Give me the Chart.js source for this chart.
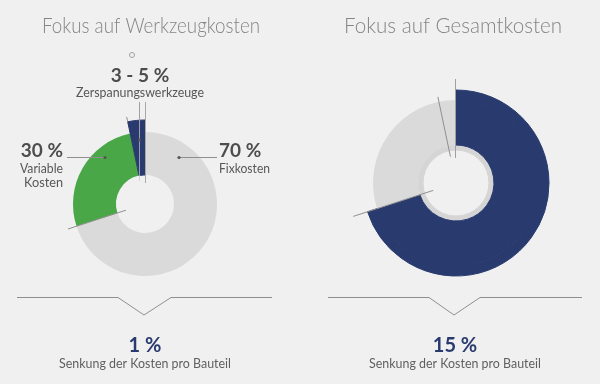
<!DOCTYPE html>
<html lang="de">
<head>
<meta charset="utf-8">
<title>Fokus auf Werkzeugkosten / Gesamtkosten</title>
<script src="https://cdn.jsdelivr.net/npm/chart.js@4.4.1/dist/chart.umd.min.js"></script>
<style>
  html, body { margin: 0; padding: 0; background: #f0f0f0; }
  #wrap { display: flex; width: 600px; height: 384px; }
  canvas { display: block; }
</style>
</head>
<body>
<div id="wrap">
  <canvas id="werkzeugChart" width="300" height="384"></canvas>
  <canvas id="gesamtChart" width="300" height="384"></canvas>
</div>
<script>
const titles = ['Fokus auf Werkzeugkosten', 'Fokus auf Gesamtkosten'];
const werkzeugLabels = ['Fixkosten', 'Variable Kosten', 'Zerspanungswerkzeuge'];
const werkzeugValues = [70, 26.7, 3.3];
const werkzeugPercent = ['70 %', '30 %', '3 - 5 %'];
const gesamtLabels = ['Fixkosten', 'Variable Kosten'];
const gesamtValues = [70, 30];
const savingPercent = ['1 %', '15 %'];
const savingText = 'Senkung der Kosten pro Bauteil';

const NAVY = '#283a6e';
const GREEN = '#4aa748';
const GRAY = '#dadada';
const RING = '#d5d5d5';
const NONE = 'rgba(0,0,0,0)';
const LINE = '#8f8f8f';
const FONT = 'Lato, "Open Sans", sans-serif';

function line(ctx, x1, y1, x2, y2, color, w) {
    ctx.save();
    ctx.strokeStyle = color;
    ctx.lineWidth = w || 1;
    ctx.beginPath();
    ctx.moveTo(x1, y1);
    ctx.lineTo(x2, y2);
    ctx.stroke();
    ctx.restore();
}

function radial(ctx, cx, cy, angle, r1, r2, color) {
    line(ctx, cx + r1 * Math.cos(angle), cy + r1 * Math.sin(angle),
        cx + r2 * Math.cos(angle), cy + r2 * Math.sin(angle), color);
}

function dot(ctx, x, y) {
    ctx.save();
    ctx.fillStyle = '#555';
    ctx.beginPath();
    ctx.arc(x, y, 1.6, 0, Math.PI * 2);
    ctx.fill();
    ctx.restore();
}

function text(ctx, str, x, y, font, color, align, maxW) {
    ctx.save();
    ctx.font = font;
    ctx.fillStyle = color;
    ctx.textAlign = align || 'center';
    ctx.textBaseline = 'alphabetic';
    if (maxW) ctx.fillText(str, x, y, maxW); else ctx.fillText(str, x, y);
    ctx.restore();
}

// title on top, chevron line and saving figure below
function frame(ctx, title, titleX, chevron, bottomX, percent) {
    text(ctx, title, titleX, 33, '300 21px ' + FONT, '#858585', 'center', 218);
    ctx.save();
    ctx.strokeStyle = LINE;
    ctx.lineWidth = 1;
    ctx.beginPath();
    ctx.moveTo(chevron[0], 297.5);
    ctx.lineTo(chevron[1], 297.5);
    ctx.lineTo(chevron[2], 315);
    ctx.lineTo(chevron[3], 297.5);
    ctx.lineTo(chevron[4], 297.5);
    ctx.stroke();
    ctx.restore();
    text(ctx, percent, bottomX, 352, 'bold 20px ' + FONT, NAVY, 'center');
    text(ctx, savingText, bottomX, 368, '14px ' + FONT, '#5f5f5f', 'center', 172);
}

const werkzeugAnnotations = {
    id: 'werkzeugAnnotations',
    afterDatasetsDraw(chart) {
        const ctx = chart.ctx;
        const arcs = chart.getDatasetMeta(1).data;
        const cx = arcs[0].x, cy = arcs[0].y;

        radial(ctx, cx + 0.5, cy, arcs[0].startAngle, 21, 102, '#a8a8a8');
        radial(ctx, cx, cy, arcs[2].startAngle, 84, 89, LINE);
        radial(ctx, cx, cy, arcs[1].startAngle, 20, 81, LINE);

        // Zerspanungswerkzeuge
        line(ctx, cx - 5.5, 102, cx - 5.5, 140, '#a0a0a0');
        line(ctx, cx - 5.5, 140, cx - 5.5, 181, 'rgba(200,200,210,0.7)');
        dot(ctx, cx - 5.5, 140);
        ctx.save();
        ctx.strokeStyle = '#a0a0a0';
        ctx.beginPath();
        ctx.arc(132, 55, 2.5, 0, Math.PI * 2);
        ctx.stroke();
        ctx.restore();
        text(ctx, werkzeugPercent[2], 140, 82, 'bold 19px ' + FONT, '#4d4d4d', 'center');
        text(ctx, werkzeugLabels[2], 140, 97, '13px ' + FONT, '#575757', 'center', 128);

        // Variable Kosten
        line(ctx, 67, 157.5, cx - 40, 157.5, LINE);
        dot(ctx, cx - 40, 157.5);
        text(ctx, werkzeugPercent[1], 63, 157, 'bold 19px ' + FONT, '#4d4d4d', 'right');
        text(ctx, 'Variable', 63, 173, '14px ' + FONT, '#575757', 'right', 43);
        text(ctx, 'Kosten', 63, 187, '14px ' + FONT, '#575757', 'right', 39);

        // Fixkosten
        line(ctx, cx + 34, 157.5, 217, 157.5, LINE);
        dot(ctx, cx + 34, 157.5);
        text(ctx, werkzeugPercent[0], 219, 157, 'bold 19px ' + FONT, '#4d4d4d', 'left');
        text(ctx, werkzeugLabels[0], 219, 173, '13.5px ' + FONT, '#575757', 'left', 51);

        frame(ctx, titles[0], 151, [17, 118, 144, 171, 272], 145, savingPercent[0]);
    }
};

const gesamtAnnotations = {
    id: 'gesamtAnnotations',
    afterDatasetsDraw(chart) {
        const ctx = chart.ctx;
        const arcs = chart.getDatasetMeta(1).data;
        const cx = arcs[0].x, cy = arcs[0].y;
        const total = werkzeugValues.reduce((a, b) => a + b, 0);
        const toolAngle = -Math.PI / 2 + 2 * Math.PI * (1 - werkzeugValues[2] / total);

        radial(ctx, cx - 0.5, cy, arcs[0].startAngle, 25, 104, '#a0a0a0');
        radial(ctx, cx, cy, toolAngle, 27, 88, LINE);
        radial(ctx, cx, cy, arcs[1].startAngle, 24, 108, LINE);

        frame(ctx, titles[1], 153, [28, 129, 154, 180, 282], 155, savingPercent[1]);
    }
};

// radius in px keeps the rings fixed even with the 1px seam border
const baseOptions = (padding, radius, cutout) => ({
    responsive: false,
    animation: false,
    radius: radius,
    cutout: (cutout / radius * 100) + '%',
    layout: { padding: padding },
    events: [],
    elements: { arc: { borderWidth: 1, hoverBorderWidth: 0, hoverOffset: 0, offset: 0 } },
    plugins: {
        legend: { display: false },
        tooltip: { enabled: false },
        title: { display: false }
    }
});

// left: R 84, main ring 72, hole 29
const werkzeugTotal = werkzeugValues.reduce((a, b) => a + b, 0);
new Chart(document.getElementById('werkzeugChart'), {
    type: 'doughnut',
    data: {
        labels: werkzeugLabels,
        datasets: [
            {
                label: 'Spitze',
                data: [werkzeugTotal - werkzeugValues[2], werkzeugValues[2]],
                backgroundColor: [NONE, NAVY],
                borderColor: [NONE, NAVY],
                weight: 12
            },
            {
                label: 'Kosten',
                data: werkzeugValues,
                backgroundColor: [GRAY, GREEN, NAVY],
                borderColor: [GRAY, GREEN, NAVY],
                borderWidth: [0, 0, 1],
                weight: 43
            }
        ]
    },
    options: baseOptions({ left: 61, right: 71, top: 120, bottom: 96 }, 84, 29),
    plugins: [werkzeugAnnotations]
});

// right: R 93, main ring 83, inner ring 38..33
new Chart(document.getElementById('gesamtChart'), {
    type: 'doughnut',
    data: {
        labels: gesamtLabels,
        datasets: [
            {
                label: 'Spitze',
                data: gesamtValues,
                backgroundColor: [NAVY, NONE],
                borderColor: [NAVY, NONE],
                weight: 10
            },
            {
                label: 'Kosten',
                data: gesamtValues,
                backgroundColor: [NAVY, GRAY],
                borderColor: [NAVY, GRAY],
                borderWidth: [1, 0],
                weight: 45
            },
            {
                label: 'Innenring',
                data: [gesamtValues[0] + gesamtValues[1]],
                backgroundColor: [RING],
                borderColor: [RING],
                borderWidth: 1,
                weight: 5
            }
        ]
    },
    options: baseOptions({ left: 63, right: 51, top: 90, bottom: 108 }, 93, 33),
    plugins: [gesamtAnnotations]
});
</script>
</body>
</html>
